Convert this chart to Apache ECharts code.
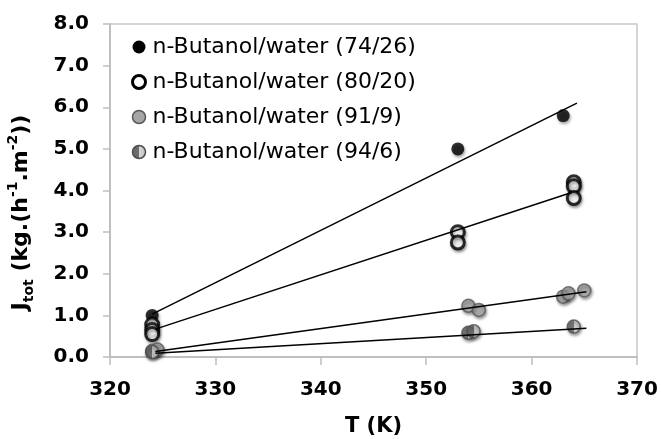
<!DOCTYPE html>
<html>
<head>
<meta charset="utf-8">
<script src="https://cdn.jsdelivr.net/npm/echarts@6/dist/echarts.min.js"></script>
<style>html,body{margin:0;padding:0;background:#fff}#c{width:661px;height:439px}</style>
</head>
<body>
<div id="c"></div>
<script>
// Data
var seriesNames = ['n-Butanol/water (74/26)', 'n-Butanol/water (80/20)', 'n-Butanol/water (91/9)', 'n-Butanol/water (94/6)'];
var T1 = [324, 353, 363];
var J1 = [1.0, 5.0, 5.8];
var T2 = [324, 324, 324, 353, 353, 364, 364, 364];
var J2 = [0.78, 0.65, 0.55, 3.0, 2.75, 4.2, 4.1, 3.82];
var T3 = [324, 324.5, 354, 355, 363, 363.5, 365];
var J3 = [0.15, 0.18, 1.23, 1.13, 1.45, 1.53, 1.6];
var T4 = [324, 354, 354.5, 364];
var J4 = [0.12, 0.58, 0.62, 0.73];
// trend line end points
var trendT1 = [324, 364.3], trendJ1 = [1.03, 6.1];
var trendT2 = [324.3, 363.8], trendJ2 = [0.67, 3.95];
var trendT3 = [324.3, 365.2], trendJ3 = [0.13, 1.57];
var trendT4 = [324.3, 365.2], trendJ4 = [0.09, 0.69];
var xTicks = [320, 330, 340, 350, 360, 370];
var yTicks = [0, 1, 2, 3, 4, 5, 6, 7, 8];

function pairs(xs, ys) { return xs.map(function (x, i) { return [x, ys[i]]; }); }

var FONT = 'DejaVu Sans';
var shadow = { shadowBlur: 3, shadowColor: 'rgba(0,0,0,0.45)', shadowOffsetX: 1, shadowOffsetY: 2 };
function merge(a, b) { var r = {}; for (var k in a) r[k] = a[k]; for (var k2 in b) r[k2] = b[k2]; return r; }

var grad4 = { type: 'linear', x: 0, y: 0, x2: 1, y2: 0, colorStops: [
      { offset: 0, color: '#6b6b6b' }, { offset: 0.5, color: '#6b6b6b' },
      { offset: 0.5, color: '#d9d9d9' }, { offset: 1, color: '#bdbdbd' }] };
var baseStyles = [
  { color: '#000000', borderColor: '#000000', borderWidth: 0 },
  { color: '#ffffff', borderColor: '#000000', borderWidth: 3 },
  { color: '#a6a6a6', borderColor: '#595959', borderWidth: 1.5 },
  { color: grad4, borderColor: '#4d4d4d', borderWidth: 1.5 }
];
var pts = [pairs(T1, J1), pairs(T2, J2), pairs(T3, J3), pairs(T4, J4)];
var trends = [pairs(trendT1, trendJ1), pairs(trendT2, trendJ2), pairs(trendT3, trendJ3), pairs(trendT4, trendJ4)];

var series = [];
for (var i = 0; i < 4; i++) {
  series.push({
    name: seriesNames[i], type: 'scatter', data: pts[i], symbol: 'circle',
    symbolSize: 13, itemStyle: merge(baseStyles[i], shadow), z: 2
  });
}
for (var j = 0; j < 4; j++) {
  series.push({
    name: 'trend' + j, type: 'line', data: trends[j], symbol: 'none',
    lineStyle: { color: '#000', width: 1.5 }, z: 3, silent: true
  });
}
var legendData = seriesNames.map(function (n, i) {
  return { name: n, icon: 'circle', itemStyle: merge(baseStyles[i], { shadowBlur: 0, shadowOffsetX: 0, shadowOffsetY: 0, opacity: 1 }) };
});

var chart = echarts.init(document.getElementById('c'), null, { renderer: 'canvas' });
chart.setOption({
  animation: false,
  backgroundColor: '#ffffff',
  grid: { left: 110, right: 24, top: 24, bottom: 82, outerBoundsMode: 'none', containLabel: false,
    show: true, borderColor: '#c8c8c8', borderWidth: 1.5, backgroundColor: 'transparent' },
  legend: {
    data: legendData, orient: 'vertical', left: 126, top: 31, itemGap: 13,
    itemWidth: 13, itemHeight: 13,
    textStyle: { fontFamily: FONT, fontSize: 22, color: '#000', padding: [0, 0, 0, 2] }
  },
  xAxis: {
    type: 'value', min: xTicks[0], max: xTicks[xTicks.length - 1], interval: 10,
    name: 'T (K)', nameLocation: 'middle', nameGap: 59,
    nameTextStyle: { fontFamily: FONT, fontWeight: 'bold', fontSize: 21, color: '#000' },
    axisLine: { show: true, lineStyle: { color: '#bfbfbf', width: 2 } },
    axisTick: { show: true, inside: false, length: 8, lineStyle: { color: '#bfbfbf', width: 1.5 } },
    axisLabel: { fontFamily: FONT, fontWeight: 'bold', fontSize: 20, color: '#000', margin: 23 },
    splitLine: { show: false }
  },
  yAxis: {
    type: 'value', min: yTicks[0], max: yTicks[yTicks.length - 1], interval: 1,
    name: '{a|J}{sub|tot}{a| (kg.(h}{sup|-1}{a|.m}{sup|-2}{a|))}',
    nameLocation: 'middle', nameGap: 74, nameRotate: 90,
    nameTextStyle: {
      fontFamily: FONT, fontWeight: 'bold', fontSize: 22, color: '#000',
      padding: [0, 44, 0, 0],
      rich: {
        a: { fontFamily: FONT, fontWeight: 'bold', fontSize: 22, color: '#000', lineHeight: 30 },
        sub: { fontFamily: FONT, fontWeight: 'bold', fontSize: 14, color: '#000', lineHeight: 14, verticalAlign: 'bottom' },
        sup: { fontFamily: FONT, fontWeight: 'bold', fontSize: 14, color: '#000', lineHeight: 14, verticalAlign: 'top' }
      }
    },
    axisLine: { show: true, lineStyle: { color: '#bfbfbf', width: 2 } },
    axisTick: { show: true, inside: false, length: 7, lineStyle: { color: '#bfbfbf', width: 1.5 } },
    axisLabel: { fontFamily: FONT, fontWeight: 'bold', fontSize: 20, color: '#000', margin: 21,
      formatter: function (v) { return v.toFixed(1); } },
    splitLine: { show: false }
  },
  series: series
});
</script>
</body>
</html>
